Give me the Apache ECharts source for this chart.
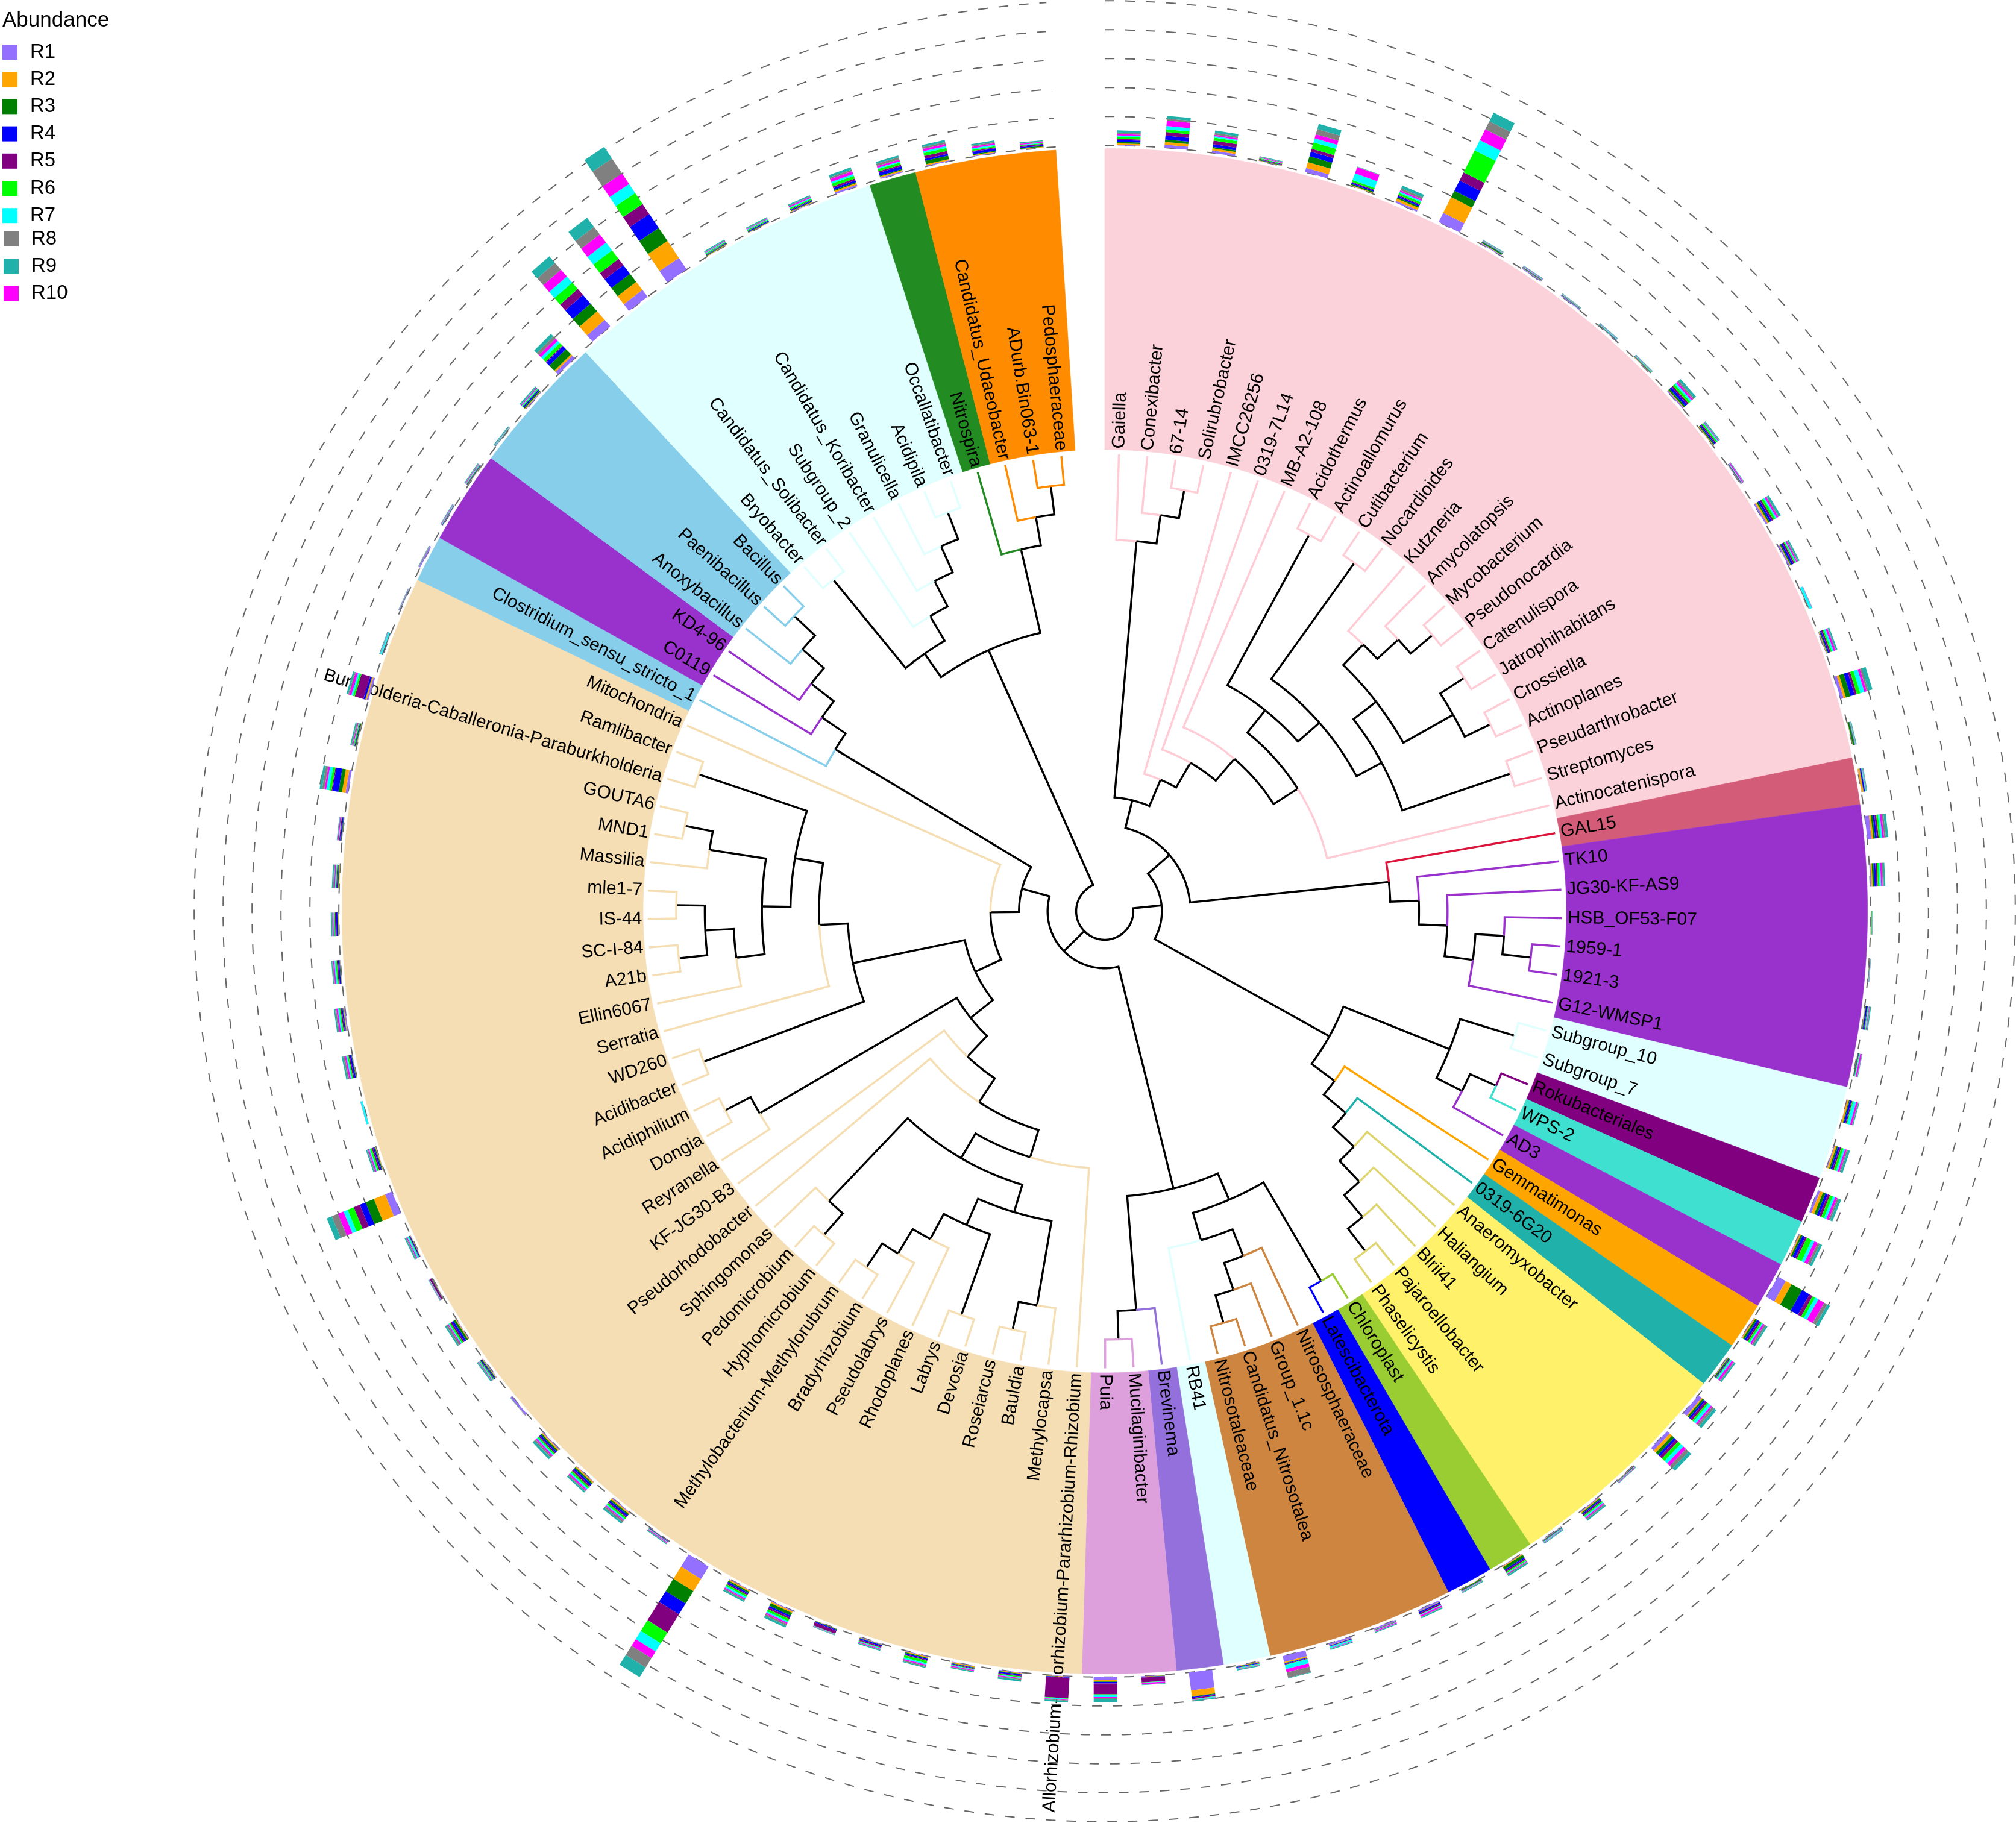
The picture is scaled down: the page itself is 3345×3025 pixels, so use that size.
<!DOCTYPE html>
<html>
<head>
<meta charset="utf-8">
<style>html,body{margin:0;padding:0;background:#fff}#chart{width:3345px;height:3025px}</style>
<script src="https://cdn.jsdelivr.net/npm/echarts@6/dist/echarts.min.js"></script>
</head>
<body>
<div id="chart"></div>
<script>
// ---------- tree topology (tips in clockwise order) ----------
const cladeActino = [
  ['Gaiella',['Conexibacter',['67-14','Solirubrobacter']]],
  ['IMCC26256',['0319-7L14',['MB-A2-108',[
    [['Acidothermus','Actinoallomurus'],
     [['Cutibacterium','Nocardioides'],
      [[['Kutzneria',['Amycolatopsis',['Mycobacterium','Pseudonocardia']]],
        [['Catenulispora','Jatrophihabitans'],['Crossiella','Actinoplanes']]],
       ['Pseudarthrobacter','Streptomyces']]]],
    'Actinocatenispora']]]]
];
const cladeChloroflexi = ['GAL15',['TK10',['JG30-KF-AS9',[['HSB_OF53-F07',['1959-1','1921-3']],'G12-WMSP1']]]];
const cladeMixedA = [
  [['Subgroup_10','Subgroup_7'],[['Rokubacteriales','WPS-2'],'AD3']],
  ['Gemmatimonas',['0319-6G20',['Anaeromyxobacter',['Haliangium',['Blrii41',['Pajaroellobacter','Phaselicystis']]]]]]
];
const cladeMixedB = [
  [['Chloroplast','Latescibacterota'],
   [['Nitrososphaeraceae',['Group_1.1c',['Candidatus_Nitrosotalea','Nitrosotaleaceae']]],'RB41']],
  ['Brevinema',['Mucilaginibacter','Puia']]
];
const cladeAlpha = [[[
  'Allorhizobium-Neorhizobium-Pararhizobium-Rhizobium',
  [[['Methylocapsa',['Bauldia','Roseiarcus']],
    [['Devosia','Labrys'],['Rhodoplanes',['Pseudolabrys',['Bradyrhizobium','Methylobacterium-Methylorubrum']]]]],
   [['Hyphomicrobium','Pedomicrobium'],'Sphingomonas']]],
  'Pseudorhodobacter'],'KF-JG30-B3'];
const cladeGamma = ['Reyranella',['Dongia','Acidiphilium']];
const cladeBeta = [['Acidibacter','WD260'],
  ['Serratia',[[['Ellin6067',[['A21b','SC-I-84'],['IS-44','mle1-7']]],['Massilia',['MND1','GOUTA6']]],
    ['Burkholderia-Caballeronia-Paraburkholderia','Ramlibacter']]]];
const cladeFirmi = ['Clostridium_sensu_stricto_1',['C0119',['KD4-96',['Anoxybacillus',['Paenibacillus','Bacillus']]]]];
const cladeAcido = [
  [['Bryobacter','Candidatus_Solibacter'],['Subgroup_2',['Candidatus_Koribacter',['Granulicella',['Acidipila','Occallatibacter']]]]],
  ['Nitrospira',['Candidatus_Udaeobacter',['ADurb.Bin063-1','Pedosphaeraceae']]]
];
const treeRoot = [
  [[cladeActino, cladeChloroflexi], cladeMixedA],
  [cladeMixedB, [[[[cladeAlpha, cladeGamma], cladeBeta], 'Mitochondria'], cladeFirmi]],
  cladeAcido
];

// ---------- coloured clades: tip count, background, branch colour ----------
const cladeSizes   = [22,1,6,2,1,1,1,1,1,5,1,1,4,1,1,2,32,1,2,3,7,1,3];
const cladeFills   = ['#FBD1DA','#D35D79','#9932CC','#E0FFFF','#800080','#40E0D0','#9932CC','#FFA500','#20B2AA','#FFF26A','#9ACD32','#0000FF','#CD853F','#E0FFFF','#9370DB','#DDA0DD','#F5DEB3','#87CEEB','#9932CC','#87CEEB','#E0FFFF','#228B22','#FF8C00'];
const cladeBranches= ['#FFCCD5','#DC143C','#9932CC','#E0FFFF','#800080','#40E0D0','#9932CC','#FFA500','#20B2AA','#DFD56E','#9ACD32','#0000FF','#CD853F','#E0FFFF','#9370DB','#DDA0DD','#F5DEB3','#87CEEB','#9932CC','#87CEEB','#E0FFFF','#228B22','#FF8C00'];

// ---------- abundance per tip, clockwise from Gaiella ----------
const R1=[1,5,4,.5,7,.5,3,17,1.5,1.5,1.5,.5,.5,2,.5,.7,3,2.5,.3,1,5,.3,.5,7,2,.3,.3,.5,.3,.5,1.5,4,1,15,1,1,7,6,.5,1.5,.8,1,.3,2.5,2,3,10,.7,30,.7,4.5,.7,1,.7,1,1,.3,1.5,1,24,.3,1.5,1,1.5,3,1.2,1,.5,.3,12.5,.5,.1,.5,2,.5,.5,.3,.5,4,.5,3,.3,.3,2,.5,.5,.3,1.5,6,14,14,23,.5,.5,1,3,2,1.5,1,.5];
const R2=[2.5,4.5,3.5,.5,10,1,4,29,.5,.3,.2,.3,.5,1,1,.3,2.5,1,.3,1,4,.5,3,3,2,.3,.3,.5,.3,2.5,3,5,2,11,2,.8,2,5,.5,1.5,.5,1.5,.5,.5,.5,.5,2,.7,10,.5,3,.7,1,1.5,1.5,.5,.5,2.5,2,24,.3,2,2,2,.2,.8,1.2,.4,.7,20,1,.1,.5,1,.5,.8,1,.3,6,.5,2,.2,.2,.2,.2,.5,.2,1,3,19,17,34,1,.5,1,2.5,2,2,1.5,1];
const R3=[2.5,4,2.5,1,10,2,2.5,12,2,1,.5,.5,.5,3,2,.5,2.5,2,.3,1.5,8,2.5,.5,3,3,.5,.3,1,.8,1.5,2.5,4.5,3,20,3.5,2,3,5,.5,2,.8,5,1.5,.5,.3,.3,.7,.7,1,.5,.7,.5,1,.8,1.5,.8,1,5,2.5,24,.3,2.5,2.5,2.5,.1,1.5,3.5,.8,.3,15,1.5,.1,1,1,1,1,1.5,1,6,1.5,.5,.5,.3,.2,.3,.7,.3,2,12,17,17,26,1,1,1,2,1.5,6,1.5,1.5];
const R4=[3,6.5,4.5,.5,8,2,2.5,19,.5,.3,.3,.5,.5,4,2,.5,3.5,3,.3,2,7,.5,2,3,3,.3,.3,2,.7,3,3,4,5,14,3.5,1,3,4,.5,2,.5,2,.5,2,.5,1,1,1,1.5,.5,2.5,.7,2,1,2,2,1.5,3,2.5,21,.7,3,3,2.5,.1,1.5,3.5,.3,1.5,10,2,.1,2.5,1.5,2,2,1,1.5,10,1,3,.5,.3,.2,.5,.7,.3,2,7,19,18,28,1,1.5,1.5,3,5,3,4,1.5];
const R5=[2,6,6,1,5,1.5,1.5,15,.5,.5,.3,.3,.5,3,2,.7,3,2.5,.3,2.5,4,.5,.5,3,2.5,.3,.3,1,.7,1.5,2.5,4,3,6,3,1,4,5,.5,2,.8,2.5,.5,2.5,.5,.5,1,.5,2,8,18,34,1.5,1,1.5,2,5.5,3,2,36,.7,2,3,2,.2,1,2.5,3,.7,11,2.5,.1,2,2,2,2,1,1.5,1.5,.5,15,.5,.3,.3,.5,.7,.3,.5,1.5,13,13,20,.5,.5,1,3,2.5,5,1.5,2];
const R6=[3.5,4.5,5,1,11,3,3.5,41,.5,.3,.5,.5,.8,4,2.5,.5,4,2,.3,2.5,6,.5,.5,3,3,1,.3,1,1,1.5,4,5,9,5,3,1,3,6,.5,2,.6,2,.5,.5,.3,.5,.5,.5,.5,.5,1,.8,1.5,.8,4,1,.5,4,3,21,.4,3,3,2.5,.1,1.5,2.5,.3,1,11,3,.1,2,2,2,1.5,1,.5,4,1.5,3,.5,.3,.2,.5,.8,.4,1.5,6,14,18,22,1.5,1.5,2,5,4,5,2,1];
const R7=[2,5.5,2.5,.5,7,12,2.5,19,.5,.5,.3,.8,.8,3,1.5,.7,2.5,1.5,4,3,7,.5,1,3,2.5,.3,.3,1,1,5,3,4,5,6,2,2.5,5,6,.5,2,.8,1,.5,1,.5,2,7,1,1,.5,3.5,1.5,1,1,2.5,1,.5,2.5,3,16,.6,2,2.5,2,.1,1,1.5,.5,2,7.5,1.5,3,2,2.5,2,1,1,.5,5,.5,3,2,.3,.2,.5,.7,.5,1,5,13.5,16,18,1,1,1.5,3,2,3,2.5,1];
const R8=[2.5,3.5,3,1,9,.5,3.5,15,.5,.5,.5,.5,.5,3,1,.5,1.5,1.5,.3,1,3,.5,.5,3,2,.3,.3,1,.5,1,2,3,4,6,3,1.5,4,6,.5,2,.5,1.5,.5,1,.5,.5,9.5,.7,.5,.3,2,1,1.5,1,2,1,.5,3,2,18,.7,3,2,3,.1,1.3,3,.4,1.5,11,1.5,.1,2.5,2,1.5,1,1.7,.5,4,1.5,1.5,.5,.3,.2,.5,1,.5,1,5,15,16,30,1,1,1,3,4,3,2,1];
const R9=[3.5,4.5,4,1,9,.5,5,16,.8,.8,.6,.8,.8,4,1.5,.8,3.5,2.5,.3,2.5,7,1,1,4,2.5,.3,.3,1.5,.8,1.5,3.5,4,4,5,3,2.5,5,6,.8,2.5,1.2,2.5,1.5,2,1.5,1.5,.8,1.5,1.5,.7,4,2.5,3,1.5,1.5,1.4,.8,3.5,2.5,19,1.5,3,2.5,4,.1,1.7,2.5,.8,2,9,2,.2,2.5,2,1.5,2,2,1,4,2,3,1,.5,.3,.7,1,1.5,2,6,14.5,19,23,1.5,1.5,2,4,3,3.5,2.5,1.5];
const R10=[2.5,9,2.5,1,7,11,2.5,20,.5,.7,.3,.5,.5,3,1,2,3,2,.5,3,4,.3,.5,3,2.5,.3,.3,1,2.5,3,3,4,6,11,3,3.5,3,6,.8,2,.8,1,.5,2.5,1.5,1,5.5,.7,.5,2.5,2,1,1.5,1.5,2,1.3,.5,2.5,2,13,1.5,2,2.5,2.5,.1,1,1.5,.7,1.5,10,2,.2,2.5,2.5,2,1.5,1.5,1.5,3,1.5,4,.5,.5,.2,.8,1,.5,1.5,5,15,17,21,1,1,2,5,3,4,2.5,1.5];

const seriesNames = ['R1','R2','R3','R4','R5','R6','R7','R10','R8','R9'];   // stacking order, inner to outer
const seriesValues= [R1,R2,R3,R4,R5,R6,R7,R10,R8,R9];
const seriesColors= ['#9370FF','#FFA500','#008000','#0000FF','#800080','#00FF00','#00FFFF','#FF00FF','#808080','#20B2AA'];
const legendFirst = ['R1','R2','R3','R4','R5','R6','R7'];
const legendSecond= ['R8','R9','R10'];
const legendTitle = 'Abundance';
const ringTicks   = [0,1,2,3,4,5];

// ---------- layout constants (axis units: one tree level = 1) ----------
const PX_PER_LEVEL = 47.4;
const SWEEP = 356.33;
const TIP_LEVEL = 16;
const SECTOR_IN = 16.16, SECTOR_OUT = 26.7, RING_BASE = 26.81, RING_STEP = 1.0127, LABEL_LEVEL = 16.2;
const ABUND_PER_LEVEL = 47.4;
const BAR_HALF_PX = 19.5;
const FONT = '"Liberation Sans", Arial, sans-serif';

// ---------- derive tips, angles and levels from the tree ----------
const tips = [];
(function walk(n){ if (typeof n === 'string') tips.push(n); else n.forEach(walk); })(treeRoot);
const step = SWEEP / tips.length;
const tipAngle = i => (i + 0.5) * step;

const tipClade = [];
cladeSizes.forEach((n, c) => { for (let k = 0; k < n; k++) tipClade.push(c); });

let cursor = 0;
const edges = [];
function layout(n){
  if (typeof n === 'string') { const i = cursor++; return {angle: tipAngle(i), height: 0, tip: i}; }
  const kids = n.map(layout);
  return {
    angle: kids.reduce((s, k) => s + k.angle, 0) / kids.length,
    height: 1 + Math.max(...kids.map(k => k.height)),
    kids
  };
}
const rootNode = layout(treeRoot);
(function collect(p){
  (p.kids || []).forEach(k => {
    edges.push({pl: TIP_LEVEL - p.height, pa: p.angle, cl: TIP_LEVEL - k.height, ca: k.angle,
                color: k.kids ? '#000000' : cladeBranches[tipClade[k.tip]], tip: !k.kids});
    collect(k);
  });
})(rootNode);

function arcPoints(api, level, a0, a1, dA){
  const n = Math.max(1, Math.ceil(Math.abs(a1 - a0) / dA));
  const pts = [];
  for (let i = 0; i <= n; i++) pts.push(api.coord([level, a0 + (a1 - a0) * i / n]).slice(0, 2));
  return pts;
}

// ---------- clade sectors ----------
const sectorRows = [];
{ let s = 0; cladeSizes.forEach((n, c) => { sectorRows.push([SECTOR_OUT, s * step, (s + n) * step, c]); s += n; }); }
const sectorSeries = {
  type: 'custom', coordinateSystem: 'polar', name: 'clades', silent: true, z: 1,
  data: sectorRows,
  renderItem(params, api){
    const a0 = api.value(1), a1 = api.value(2), c = api.value(3);
    const outer = arcPoints(api, SECTOR_OUT, a0, a1, 0.5);
    const inner = arcPoints(api, SECTOR_IN, a1, a0, 0.5);
    return {type: 'polygon', shape: {points: outer.concat(inner)},
            style: {fill: cladeFills[c], stroke: cladeFills[c], lineWidth: 0.6}};
  }
};

// ---------- tree edges ----------
const treeSeries = {
  type: 'custom', coordinateSystem: 'polar', name: 'tree', silent: true, z: 2,
  data: edges.map(e => [e.cl, e.ca, e.pl, e.pa]),
  renderItem(params, api){
    const e = edges[params.dataIndex];
    const pts = arcPoints(api, e.pl, e.pa, e.ca, 1);
    pts.push(api.coord([e.cl, e.ca]).slice(0, 2));
    return {type: 'polyline', shape: {points: pts},
            style: {fill: 'none', stroke: e.color, lineWidth: 3.4, lineJoin: 'miter', lineCap: 'butt', miterLimit: 10}};
  }
};

// ---------- tip labels ----------
const labelSeries = {
  type: 'custom', coordinateSystem: 'polar', name: 'labels', silent: true, z: 3,
  data: tips.map((t, i) => [LABEL_LEVEL, tipAngle(i)]),
  renderItem(params, api){
    const a = api.value(1);
    const p = api.coord([LABEL_LEVEL, a]);
    const right = a <= 180;
    const rot = (90 - a + (right ? 0 : 180)) * Math.PI / 180;
    return {type: 'text', x: p[0], y: p[1], rotation: rot,
            style: {text: tips[params.dataIndex], font: '30px ' + FONT, fill: '#000',
                    align: right ? 'left' : 'right', verticalAlign: 'middle'}};
  }
};

// ---------- dashed rings ----------
const ringSeries = {
  type: 'custom', coordinateSystem: 'polar', name: 'rings', silent: true, z: 4,
  data: ringTicks.map(t => [RING_BASE + t * RING_STEP, 0]),
  renderItem(params, api){
    return {type: 'polyline', shape: {points: arcPoints(api, api.value(0), 0, SWEEP, 0.25)},
            style: {fill: 'none', stroke: '#666666', lineWidth: 2, lineDash: [16, 18]}};
  }
};

// ---------- stacked abundance bars ----------
const running = tips.map(() => 0);
const barSeries = seriesNames.map((name, k) => {
  const rows = seriesValues[k].map((v, i) => {
    const base = running[i];
    running[i] += v;
    return [RING_BASE + base / ABUND_PER_LEVEL, tipAngle(i), v];
  });
  return {
    type: 'custom', coordinateSystem: 'polar', name, silent: true, z: 5,
    itemStyle: {color: seriesColors[k]},
    data: rows,
    renderItem(params, api){
      const lo = api.value(0), a = api.value(1), v = api.value(2);
      const cs = params.coordSys;
      const p0 = api.coord([lo, a]);
      const p1 = api.coord([lo + v / ABUND_PER_LEVEL, a]);
      const dx = p0[0] - cs.cx, dy = p0[1] - cs.cy;
      const len = Math.hypot(dx, dy);
      const nx = -dy / len * BAR_HALF_PX, ny = dx / len * BAR_HALF_PX;
      return {type: 'polygon',
              shape: {points: [[p0[0]+nx,p0[1]+ny],[p1[0]+nx,p1[1]+ny],[p1[0]-nx,p1[1]-ny],[p0[0]-nx,p0[1]-ny]]},
              style: {fill: seriesColors[k]}};
    }
  };
});

const legendBase = {
  orient: 'vertical', icon: 'rect', itemWidth: 25, itemHeight: 25, itemGap: 12.2, selectedMode: false,
  textStyle: {fontFamily: FONT, fontSize: 33, color: '#000', padding: [0,0,0,16]}, padding: 0
};

const chart = echarts.init(document.getElementById('chart'), null, {width: 3345, height: 3025, renderer: 'canvas'});
chart.setOption({
  animation: false,
  backgroundColor: '#ffffff',
  title: {text: legendTitle, left: 4, top: 17, padding: 0, textStyle: {fontFamily: FONT, fontSize: 35, fontWeight: 'normal', color: '#000'}},
  legend: [
    Object.assign({}, legendBase, {data: legendFirst, left: 4, top: 70}),
    Object.assign({}, legendBase, {data: legendSecond, left: 6, top: 380})
  ],
  polar: {center: [1833, 1512], radius: [0, 33 * PX_PER_LEVEL]},
  angleAxis: {type: 'value', min: 0, max: 360, startAngle: 90, clockwise: true, show: false},
  radiusAxis: {type: 'value', min: 0, max: 33, show: false},
  series: [sectorSeries, treeSeries, labelSeries, ringSeries].concat(barSeries)
});
</script>
</body>
</html>
